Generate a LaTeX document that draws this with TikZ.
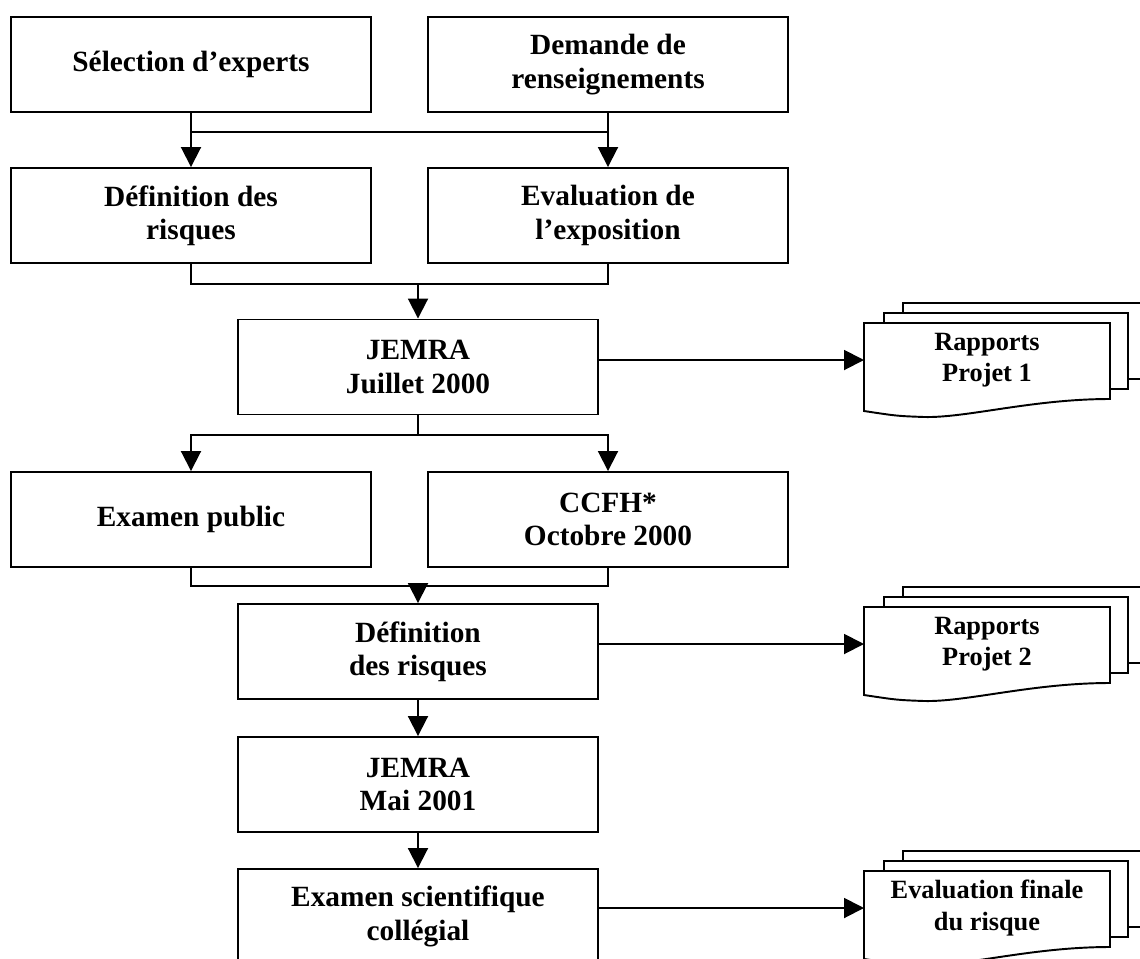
\documentclass[tikz,border=0pt]{standalone}
\usepackage{fontspec}
\setmainfont{Liberation Serif}
\usetikzlibrary{arrows.meta,calc,backgrounds}

\begin{document}
\begin{tikzpicture}[
    box/.style = {
        draw,
        rectangle,
        line width = 1.1pt,
        minimum width = 7.2cm,
        minimum height = 1.9cm,
        align = center,
        font = \fontsize{16.7}{19}\selectfont\bfseries
    },
    report/.style = {
        rectangle,
        outer sep = 0pt,
        minimum width = 4.92cm,
        minimum height = 1.48cm,
        align = center,
        font = \fontsize{15}{18}\selectfont\bfseries
    },
    page/.style = {draw, fill = white, line width = 1.1pt},
    link/.style = {line width = 1.1pt},
    arrow/.style = {link, -{Triangle[length = 0.4cm, width = 0.4cm]}}
]
\useasboundingbox (0, 0) rectangle (22.8, -19.16);

% Row 1: inputs
\node[box] (sel) at (3.82, -1.29) {Sélection d’experts};
\node[box] (dem) at (12.16, -1.29) {Demande de \\ renseignements};

% Row 2: risk definition and exposure
\node[box] (defa) at (3.82, -4.31) {Définition des \\ risques};
\node[box] (expo) at (12.16, -4.31) {Evaluation de \\ l’exposition};

% Row 3: first meeting
\node[box] (jem1) at (8.36, -7.34) {JEMRA \\ Juillet 2000};

% Row 4: reviews
\node[box] (pub) at (3.82, -10.39) {Examen public};
\node[box] (ccfh) at (12.16, -10.39) {CCFH* \\ Octobre 2000};

% Rows 5-7: main chain
\node[box] (defb) at (8.36, -13.03) {Définition \\ des risques};
\node[box] (jem2) at (8.36, -15.69) {JEMRA \\ Mai 2001};
\node[box] (exam) at (8.36, -18.33) {Examen scientifique \\ collégial};

% Reports
\node[report] (rap1) at (19.74, -7.2) {Rapports \\ Projet 1};
\node[report] (rap2) at (19.74, -12.88) {Rapports \\ Projet 2};
\node[report] (evalf) at (19.74, -18.16) {Evaluation finale \\ du risque};

% Report stacks (pages behind the text)
\begin{scope}[on background layer]
\foreach \d in {rap1, rap2, evalf} {
    \draw[page] ($(\d.north west) + (0.78, 0.4)$) rectangle ($(\d.south east) + (0.74, 0.36)$);
    \draw[page] ($(\d.north west) + (0.4, 0.2)$) rectangle ($(\d.south east) + (0.36, 0.16)$);
    \draw[page] (\d.north west) -- (\d.north east) -- ($(\d.south east) + (0, -0.04)$)
        .. controls ($(\d.south) + (0.9, -0.04)$) and ($(\d.south) + (-0.4, -0.42)$) .. ($(\d.south) + (-1.26, -0.4)$)
        .. controls ($(\d.south) + (-1.8, -0.38)$) .. ($(\d.south west) + (0, -0.28)$) -- cycle;
}
\end{scope}

% Flow arrows
\draw[arrow] (sel) -- (defa);
\draw[arrow] (dem) -- (expo);
\path (sel.south) ++(0, -0.38) coordinate (j1);
\draw[link] (j1) -- (j1 -| dem.south);

\draw[link] (defa.south) -- ++(0, -0.4) coordinate (j2) -| (expo.south);
\draw[arrow] (j2 -| jem1.north) -- (jem1.north);

\draw[link] (jem1.south) -- ++(0, -0.39) coordinate (j3);
\draw[arrow] (j3) -| (pub.north);
\draw[arrow] (j3) -| (ccfh.north);

\draw[link] (pub.south) -- ++(0, -0.36) coordinate (j4) -| (ccfh.south);
\draw[arrow] (j4 -| defb.north) -- (defb.north);

\draw[arrow] (defb) -- (jem2);
\draw[arrow] (jem2) -- (exam);

% Outputs
\draw[arrow] (jem1.east |- rap1.west) -- (rap1.west);
\draw[arrow] (defb.east |- rap2.west) -- (rap2.west);
\draw[arrow] (exam.east |- evalf.west) -- (evalf.west);

\end{tikzpicture}
\end{document}
